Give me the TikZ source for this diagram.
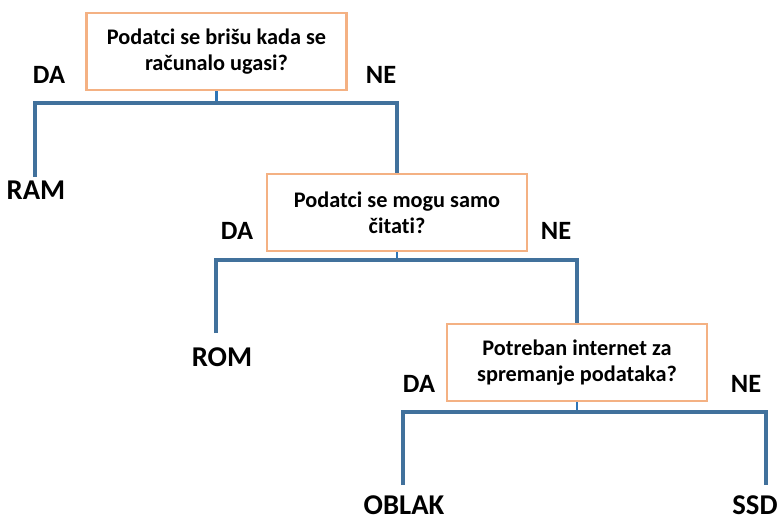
\documentclass[tikz,border=0pt]{standalone}
\usepackage{fontspec}
\setmainfont[Ligatures=NoCommon]{Carlito}
\usepackage{xcolor}
\definecolor{box_orange}{RGB}{244,177,131}
\definecolor{line_blue}{RGB}{65,113,156}
\definecolor{stem_blue}{RGB}{46,117,182}
\tikzset{
  question/.style={draw=box_orange, fill=white, line width=1.8pt, minimum width=195pt, minimum height=57.75pt, inner sep=0pt, align=center, font=\fontsize{16.7}{19.5}\selectfont\bfseries},
  answer/.style={inner sep=1pt, font=\fontsize{19.8}{22}\selectfont\bfseries},
  leaf/.style={inner sep=0.5pt, font=\fontsize{21.5}{23}\selectfont\bfseries},
  branch/.style={draw=line_blue, line width=3.4pt},
  stem/.style={draw=stem_blue, line width=2.2pt},
}

\begin{document}
\begin{tikzpicture}[x=0.75pt, y=-0.75pt]
\useasboundingbox (0, 0) rectangle (784, 525);

% questions
\node[question] (q1) at (216.5, 51.5) {Podatci se brišu kada se\\računalo ugasi?};
\node[question] (q2) at (397, 212.5) {Podatci se mogu samo\\čitati?};
\node[question] (q3) at (577, 362.5) {Potreban internet za\\spremanje podataka?};

% answers
\node[answer] (da1) at (49, 75) {DA};
\node[answer] (ne1) at (381, 75) {NE};
\node[answer] (da2) at (237, 230.5) {DA};
\node[answer] (ne2) at (556, 230.5) {NE};
\node[answer] (da3) at (419, 384) {DA};
\node[answer] (ne3) at (746, 384) {NE};

% results
\node[leaf] (ram) at (36, 190.5) {RAM};
\node[leaf] (rom) at (222, 357) {ROM};
\node[leaf] (oblak) at (404, 505) {OBLAK};
\node[leaf] (ssd) at (755, 505) {SSD};

% forks
\coordinate (fork1) at (216.5, 103);
\coordinate (fork2) at (397, 260);
\coordinate (fork3) at (577, 412);
\coordinate (ram_end) at (35, 177);
\coordinate (rom_end) at (216, 333);
\coordinate (oblak_end) at (403, 485);
\coordinate (ssd_end) at (766, 485);

\draw[stem] (q1.south) -- (fork1);
\draw[branch] (ram_end) |- (fork1) -| (q2.north);

\draw[stem] (q2.south) -- (fork2);
\draw[branch] (rom_end) |- (fork2) -| (q3.north);

\draw[stem] (q3.south) -- (fork3);
\draw[branch] (oblak_end) |- (fork3) -| (ssd_end);

\end{tikzpicture}
\end{document}
